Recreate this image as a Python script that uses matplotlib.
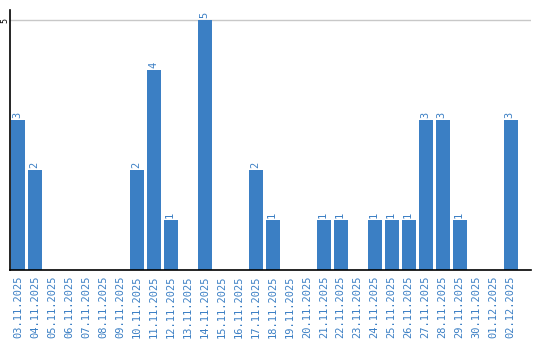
import matplotlib
matplotlib.use("Agg")
import matplotlib.pyplot as plt

dates = ["03.11.2025", "04.11.2025", "05.11.2025", "06.11.2025", "07.11.2025",
         "08.11.2025", "09.11.2025", "10.11.2025", "11.11.2025", "12.11.2025",
         "13.11.2025", "14.11.2025", "15.11.2025", "16.11.2025", "17.11.2025",
         "18.11.2025", "19.11.2025", "20.11.2025", "21.11.2025", "22.11.2025",
         "23.11.2025", "24.11.2025", "25.11.2025", "26.11.2025", "27.11.2025",
         "28.11.2025", "29.11.2025", "30.11.2025", "01.12.2025", "02.12.2025"]
counts = [3, 2, 0, 0, 0, 0, 0, 2, 4, 1,
          0, 5, 0, 0, 2, 1, 0, 0, 1, 1,
          0, 1, 1, 1, 3, 3, 1, 0, 0, 3]

blue = "#3b7fc4"

fig = plt.figure(figsize=(5.4, 3.4), dpi=100)
ax = fig.add_axes([10 / 540, 70 / 340, 521 / 540, 260 / 340])

x = list(range(len(dates)))
ax.bar(x, counts, width=0.82, color=blue, zorder=2)
for xi, c in zip(x, counts):
    if c > 0:
        ax.text(xi - 0.05, c + 0.04, str(c), rotation=90, ha="center", va="bottom",
                color=blue, fontsize=7.5, family="DejaVu Sans Mono")

ax.set_xlim(-0.47, 30.2)
ax.set_ylim(0, 5.2)
ax.set_yticks([5])
ax.set_yticklabels(["5"], rotation=90, va="center", fontsize=6,
                   family="DejaVu Sans Mono")
ax.tick_params(axis="y", length=0, pad=0.5)
ax.grid(axis="y", color="#c8c8c8", linewidth=1, zorder=0)

ax.set_xticks(x)
ax.set_xticklabels(dates, rotation=90, color=blue, fontsize=7.5,
                   family="DejaVu Sans Mono")
ax.tick_params(axis="x", length=0, pad=4)

ax.spines["top"].set_visible(False)
ax.spines["right"].set_visible(False)
ax.spines["left"].set_linewidth(1.2)
ax.spines["bottom"].set_linewidth(1.2)

fig.savefig("out.png", dpi=100)
